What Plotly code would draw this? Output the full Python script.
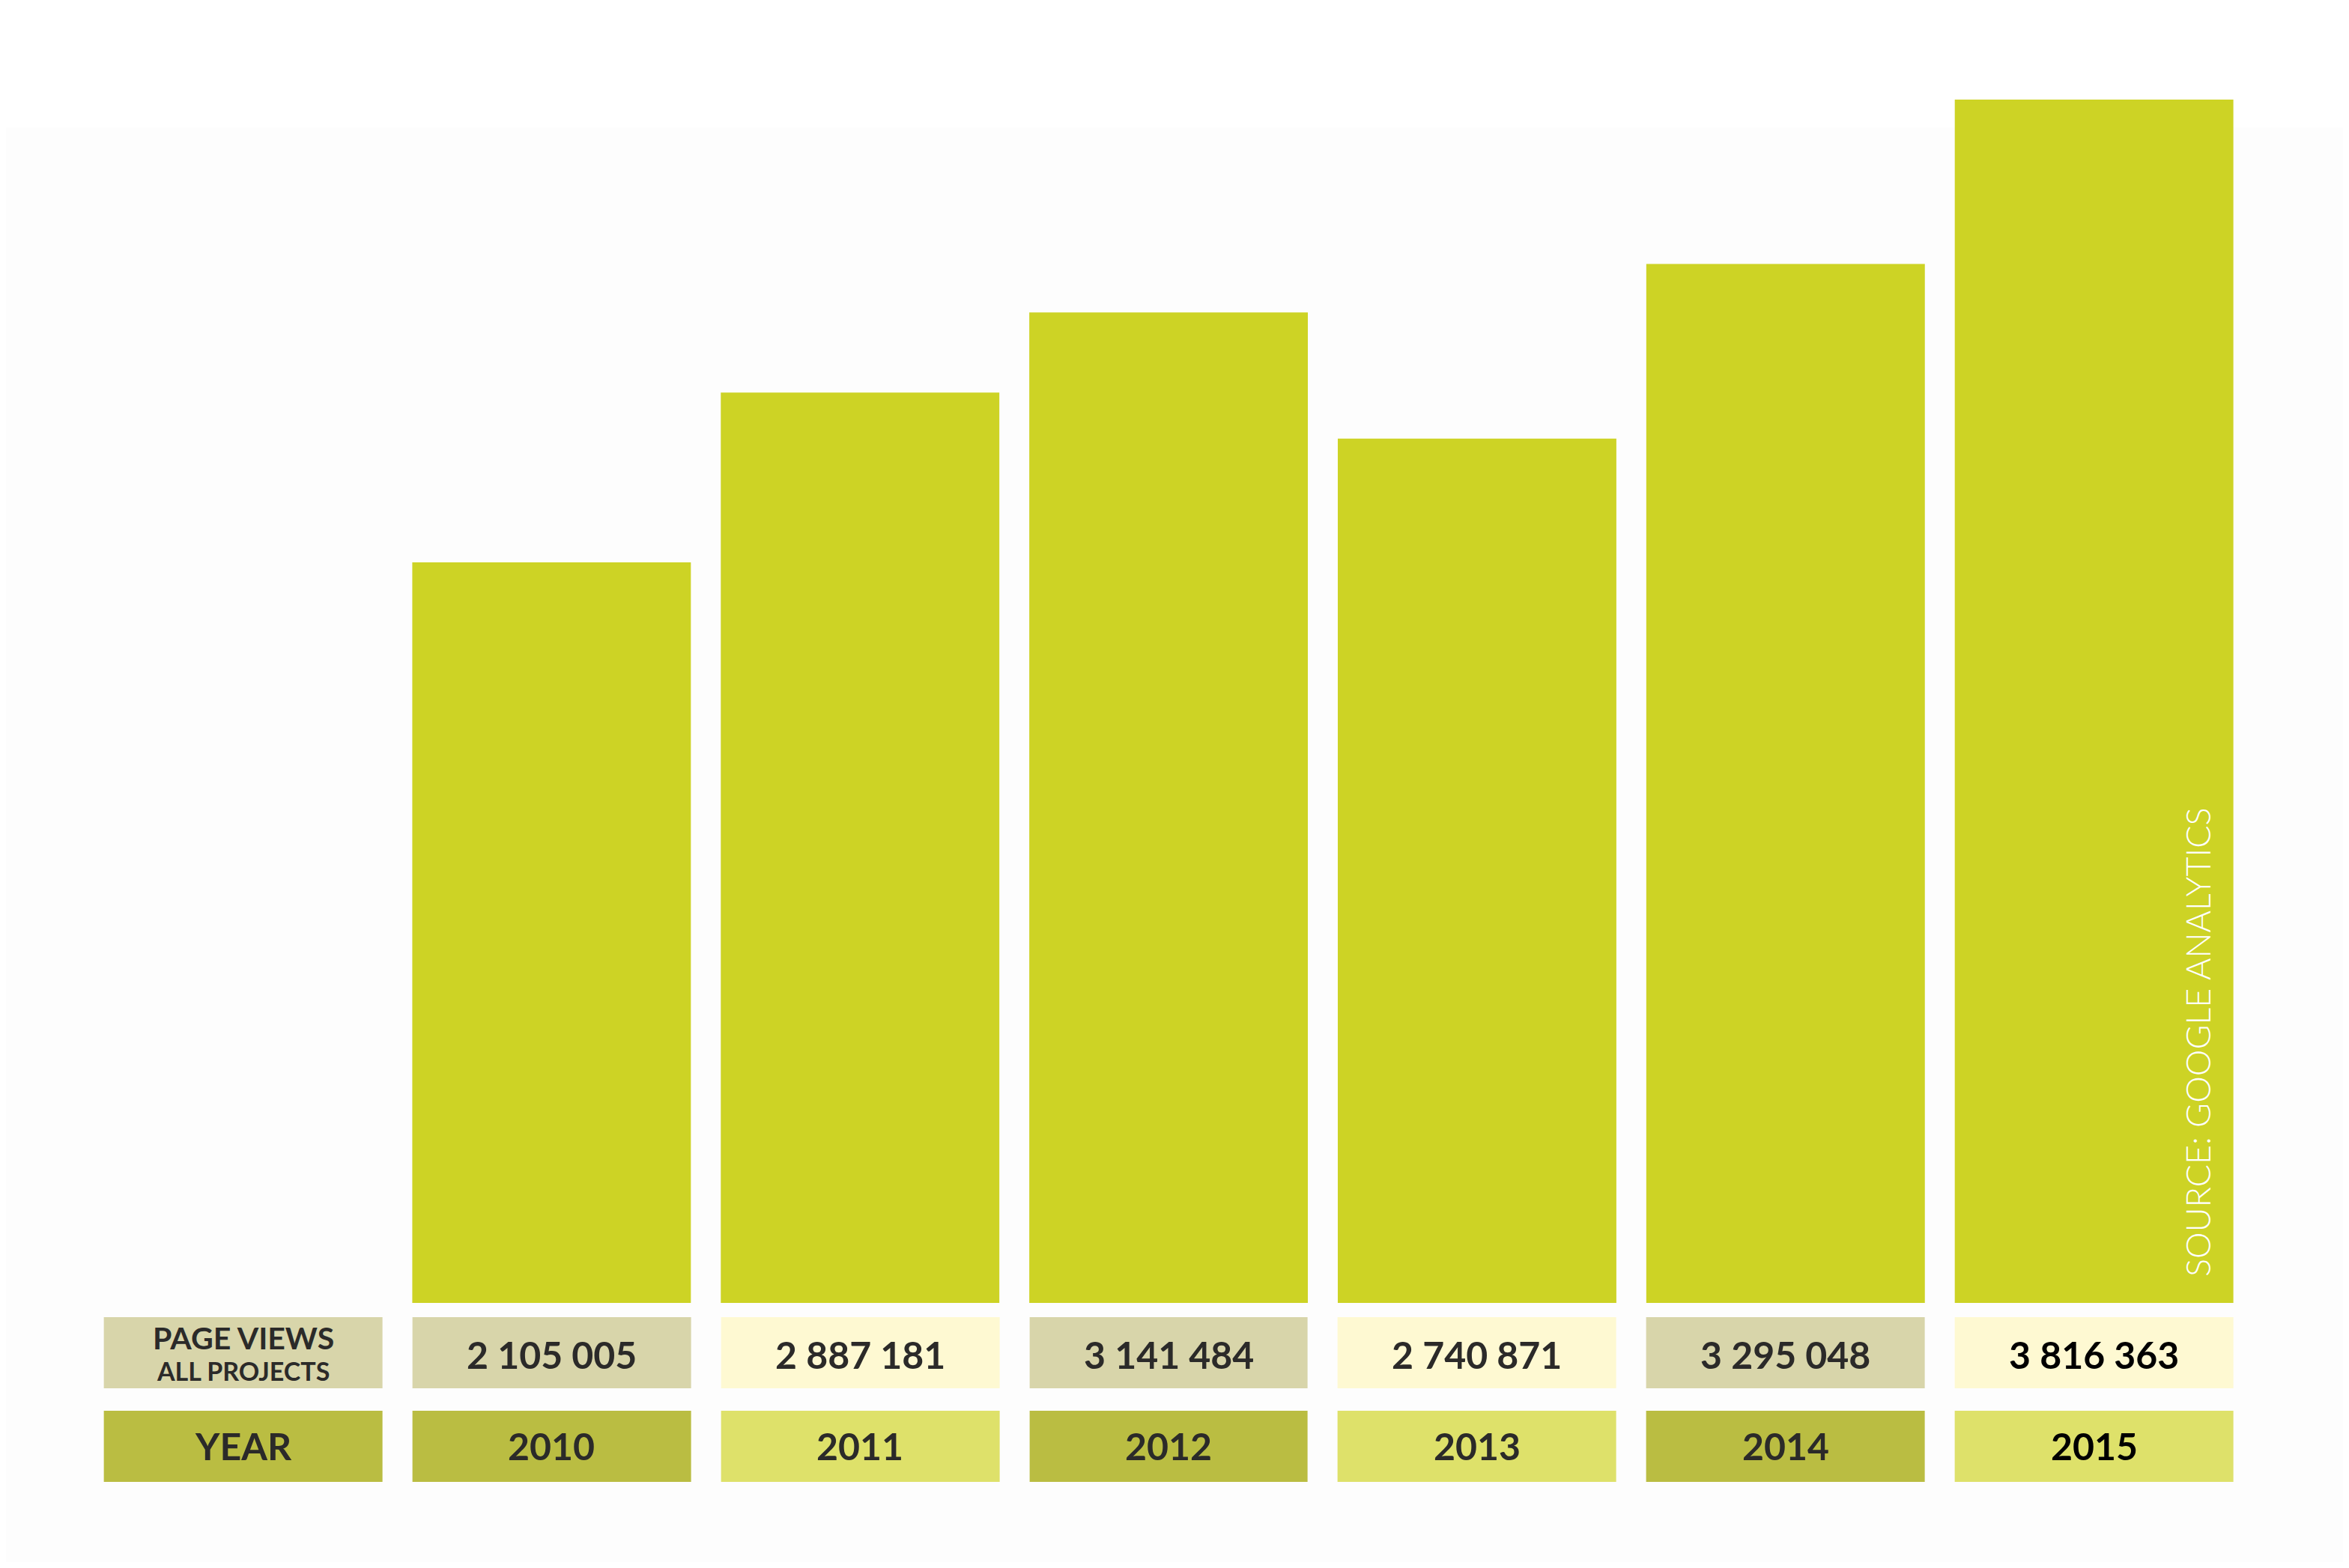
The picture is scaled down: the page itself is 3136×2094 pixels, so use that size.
import plotly.graph_objects as go

# ---- data ----
years = [2010, 2011, 2012, 2013, 2014, 2015]
page_views = [2105005, 2887181, 3141484, 2740871, 3295048, 3816363]
# bar lengths as drawn in the picture (the 2010 bar is drawn longer than its label)
bar_lengths = [2349000, 2887181, 3141484, 2740871, 3295048, 3816363]
row_labels = ["YEAR", "PAGE VIEWS"]
sub_label = "ALL PROJECTS"
source_text = "SOURCE: GOOGLE ANALYTICS"

# ---- styles ----
BAR = "#CDD325"
KHAKI = "#D8D5AA"
CREAM = "#FEF9D2"
OLIVE = "#BABD42"
LIGHT = "#DEE16A"
TXT = "#2B2A29"
FONT = "Lato, Roboto, sans-serif"

OFF = 8              # page body margin
W, H = 3136 - 2 * OFF, 2094 - 2 * OFF
REF_H = 2094


def yfrac(r):
    """fraction from bottom of the figure for a reference-page pixel row r"""
    return (REF_H - OFF - r) / H


positions = list(range(1, len(years) + 1))
cols = [0] + positions  # column 0 = row-label column

# colour classes: 0 khaki, 1 cream, 2 olive, 3 light
pv_row = [0] + [0 if i % 2 == 0 else 1 for i in range(len(years))]
yr_row = [2] + [2 if i % 2 == 0 else 3 for i in range(len(years))]

fig = go.Figure()

fig.add_trace(go.Bar(
    x=positions, y=bar_lengths, width=0.903,
    marker=dict(color=BAR, line=dict(width=0)),
    hoverinfo="skip", showlegend=False, xaxis="x", yaxis="y",
))

fig.add_trace(go.Heatmap(
    x=cols, y=[0, 1], z=[yr_row, pv_row],
    zmin=0, zmax=3,
    colorscale=[[0, KHAKI], [1/3, CREAM], [2/3, OLIVE], [1, LIGHT]],
    showscale=False, xgap=40, ygap=30, hoverinfo="skip",
    xaxis="x", yaxis="y2",
))

annotations = []
fmt = lambda v: f"{v:,}".replace(",", " ")
for i, (p, v, yr) in enumerate(zip(positions, page_views, years)):
    color = "#000000" if i == len(years) - 1 else TXT
    annotations.append(dict(x=p, y=1, xref="x", yref="y2", text=fmt(v),
                            showarrow=False, yshift=-2,
                            font=dict(family=FONT, size=50, color=color, weight="bold")))
    annotations.append(dict(x=p, y=0, xref="x", yref="y2", text=str(yr),
                            showarrow=False, yshift=1,
                            font=dict(family=FONT, size=50, color=color, weight="bold")))

annotations.append(dict(x=0, y=1, xref="x", yref="y2", text=row_labels[1],
                        showarrow=False, yshift=20,
                        font=dict(family=FONT, size=41, color=TXT, weight="bold")))
annotations.append(dict(x=0, y=1, xref="x", yref="y2", text=sub_label,
                        showarrow=False, yshift=-24,
                        font=dict(family=FONT, size=34, color=TXT, weight="bold")))
annotations.append(dict(x=0, y=0, xref="x", yref="y2", text=row_labels[0],
                        showarrow=False, yshift=1,
                        font=dict(family=FONT, size=50, color=TXT, weight="bold")))

annotations.append(dict(x=(2934 - OFF) / W, y=yfrac(1392), xref="paper", yref="paper",
                        text=source_text, textangle=-90, showarrow=False,
                        xanchor="center", yanchor="middle",
                        font=dict(family=FONT, size=45, color="#FFFFFF", weight=300)))

PX_PER_COL = 411.86
COL0 = 324.5
x0 = (OFF - COL0) / PX_PER_COL
x1 = (OFF + W - COL0) / PX_PER_COL
PX_PER_MILLION = 421.08

fig.update_layout(
    width=W, height=H,
    margin=dict(l=0, r=0, t=0, b=0),
    paper_bgcolor="#FDFDFD", plot_bgcolor="rgba(0,0,0,0)",
    showlegend=False,
    xaxis=dict(range=[x0, x1], visible=False, fixedrange=True),
    yaxis=dict(domain=[yfrac(1740), 1], range=[0, (1740 - OFF) / PX_PER_MILLION * 1e6],
               visible=False, fixedrange=True),
    yaxis2=dict(domain=[yfrac(1994), yfrac(1744)], range=[-0.5, 1.5],
                visible=False, fixedrange=True),
    annotations=annotations,
    shapes=[dict(type="rect", xref="paper", yref="paper", x0=0, x1=1,
                 y0=yfrac(170), y1=1, fillcolor="#FFFFFF",
                 line=dict(width=0), layer="below")],
)

fig.write_html("out.html")
